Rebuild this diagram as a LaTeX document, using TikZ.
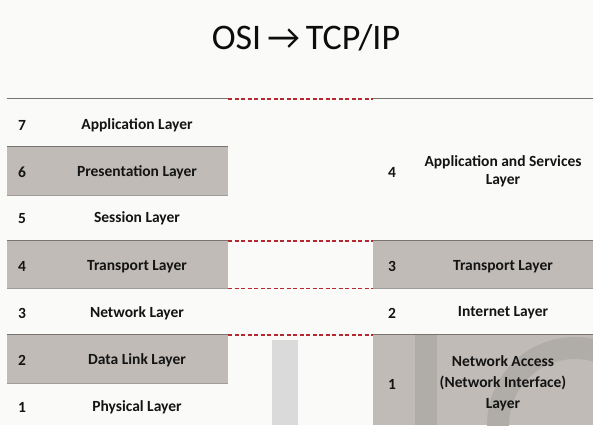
\documentclass[tikz,border=0pt]{standalone}
\usepackage{fontspec}
\setmainfont{Carlito}
\begin{document}
\begin{tikzpicture}[x=1pt,y=-1pt]
\definecolor{bandgrey}{RGB}{192,187,182}
\definecolor{edgegrey}{RGB}{120,117,113}
\definecolor{paper}{RGB}{250,250,249}
\definecolor{dashred}{RGB}{180,40,50}
\definecolor{markgrey}{RGB}{218,218,218}
\definecolor{markdark}{RGB}{176,172,168}
\tikzset{
  greyrow/.style={fill=bandgrey, draw=none, minimum width=221pt, inner sep=0pt},
  whiterow/.style={fill=paper, draw=none, minimum width=221pt, inner sep=0pt},
  numtxt/.style={font=\bfseries\fontsize{15.5}{17}\selectfont, inner sep=0pt, text=black!92},
  laytxt/.style={font=\bfseries\fontsize{15.5}{18}\selectfont, inner sep=0pt, align=center, text=black!92},
  redlink/.style={draw=dashred, line width=1.4pt, dash pattern=on 4pt off 2.5pt},
  edge/.style={draw=edgegrey, line width=1pt}
}
\useasboundingbox (0,0) rectangle (593,425);
\fill[paper] (0,0) rectangle (593,425);
% title
\node[font=\fontsize{36}{40}\selectfont, inner sep=0pt, text=black!95] (title) at (306,38) {OSI\,\char"2192\,TCP/IP};
% left column rows
\node[whiterow, minimum height=48pt] (l7) at (117.5,123) {};
\node[greyrow, minimum height=48pt] (l6) at (117.5,171) {};
\node[whiterow, minimum height=46pt] (l5) at (117.5,218) {};
\node[greyrow, minimum height=47pt] (l4) at (117.5,264.5) {};
\node[whiterow, minimum height=47pt] (l3) at (117.5,311.5) {};
\node[greyrow, minimum height=48pt] (l2) at (117.5,359) {};
\node[whiterow, minimum height=42pt] (l1) at (117.5,404) {};
% right column rows
\node[whiterow, minimum width=220pt, minimum height=142pt] (r4) at (483,170) {};
\node[greyrow, minimum width=220pt, minimum height=47pt] (r3) at (483,264.5) {};
\node[whiterow, minimum width=220pt, minimum height=47pt] (r2) at (483,311.5) {};
\node[greyrow, minimum width=220pt, minimum height=90pt] (r1) at (483,380) {};
% watermark shapes
\fill[markgrey] (272,340) rectangle (298,425);
\begin{scope}
\clip (r1.north west) rectangle (r1.south east);
\fill[markdark] (415,335) rectangle (437,425);
\fill[markdark, even odd rule] (575,425) circle (88) (575,425) circle (66);
\end{scope}
% edges of grey rows
\foreach \n in {l6,l4,l2,r3,r1}{
  \draw[edge] (\n.north west) -- (\n.north east);
}
\foreach \n in {l6,l4,l2,r3}{
  \draw[edgegrey!70, line width=0.7pt] (\n.south west) -- (\n.south east);
}
\draw[edge] (l7.north west) -- (l7.north east);
\draw[edge] (r4.north west) -- (r4.north east);
% dashed links
\draw[redlink] (l7.north east) -- (r4.north west);
\draw[redlink] (l4.north east) -- (r3.north west);
\draw[redlink] (l4.south east) -- (r3.south west);
\draw[redlink] (l2.north east) -- (r1.north west);
% left texts
\node[numtxt] (n7) at (22,125) {7};
\node[laytxt] (t7) at (137,125) {Application Layer};
\node[numtxt] (n6) at (22,172.5) {6};
\node[laytxt] (t6) at (137,172.5) {Presentation Layer};
\node[numtxt] (n5) at (22,218.5) {5};
\node[laytxt] (t5) at (137,218.5) {Session Layer};
\node[numtxt] (n4) at (22,266.5) {4};
\node[laytxt] (t4) at (137,266.5) {Transport Layer};
\node[numtxt] (n3) at (22,313) {3};
\node[laytxt] (t3) at (137,313) {Network Layer};
\node[numtxt] (n2) at (22,360) {2};
\node[laytxt] (t2) at (137,360) {Data Link Layer};
\node[numtxt] (n1) at (22,407) {1};
\node[laytxt] (t1) at (137,407) {Physical Layer};
% right texts
\node[numtxt] (m4) at (392,172) {4};
\node[laytxt] (u4) at (503,171.5) {Application and Services\\Layer};
\node[numtxt] (m3) at (392,266.5) {3};
\node[laytxt] (u3) at (503,266.5) {Transport Layer};
\node[numtxt] (m2) at (392,313) {2};
\node[laytxt] (u2) at (503,313) {Internet Layer};
\node[numtxt] (m1) at (392,384) {1};
\node[laytxt, font=\bfseries\fontsize{15.5}{21}\selectfont] (u1) at (503,383.5) {Network Access\\(Network Interface)\\Layer};
\end{tikzpicture}
\end{document}
